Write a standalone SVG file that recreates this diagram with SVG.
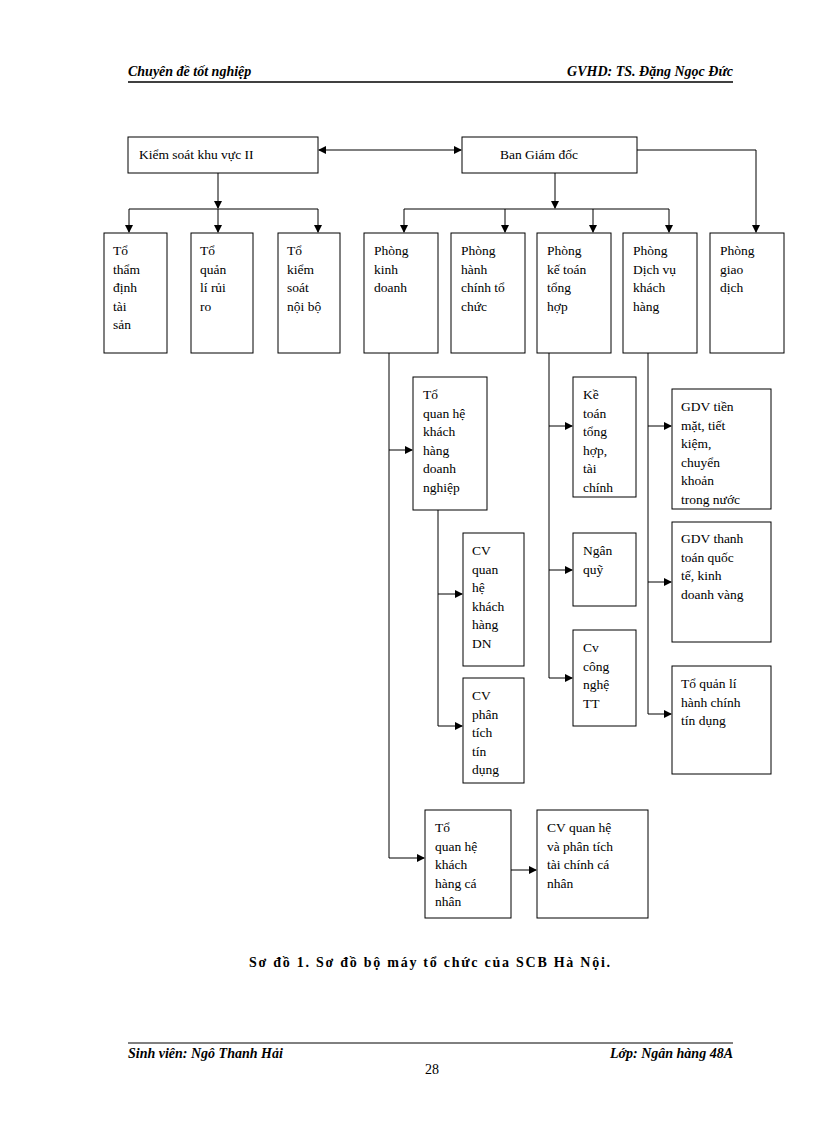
<svg xmlns="http://www.w3.org/2000/svg" width="816" height="1123" viewBox="0 0 816 1123" font-family="'Liberation Serif','Times New Roman','DejaVu Serif',serif">
<style>
rect{fill:#fff;stroke:#000;stroke-width:1}
text{font-family:'Liberation Serif','Times New Roman','DejaVu Serif',serif;font-size:13.5px;fill:#000}
.h{font-weight:bold;font-style:italic;font-size:14px}
.c{font-weight:bold;font-size:14px}
#conn path{fill:none;stroke:#000;stroke-width:1}
</style>
<defs>
<marker id="a" markerWidth="8" markerHeight="8" refX="7" refY="4" orient="auto" markerUnits="userSpaceOnUse"><path d="M0,0 L8,4 L0,8 z" fill="#000"/></marker>
<marker id="s" markerWidth="8" markerHeight="8" refX="1" refY="4" orient="auto" markerUnits="userSpaceOnUse"><path d="M8,0 L0,4 L8,8 z" fill="#000"/></marker>
</defs>
<text class="h" x="128" y="76">Chuyên đề tốt nghiệp</text>
<text class="h" x="733" y="76" text-anchor="end">GVHD: TS. Đặng Ngọc Đức</text>
<line x1="128" y1="82" x2="733" y2="82" stroke="#000" stroke-width="1.5"/>

<g id="conn">
<path d="M319,150 H461" marker-start="url(#s)" marker-end="url(#a)"/>
<path d="M218,173 V208" marker-end="url(#a)"/>
<path d="M129,209 H318"/>
<path d="M129,209 V232" marker-end="url(#a)"/>
<path d="M218,209 V232" marker-end="url(#a)"/>
<path d="M318,209 V232" marker-end="url(#a)"/>
<path d="M555,173 V208" marker-end="url(#a)"/>
<path d="M404,209 H669"/>
<path d="M404,209 V232" marker-end="url(#a)"/>
<path d="M505,209 V232" marker-end="url(#a)"/>
<path d="M593,209 V232" marker-end="url(#a)"/>
<path d="M669,209 V232" marker-end="url(#a)"/>
<path d="M637,150 H756 V232" marker-end="url(#a)"/>
<path d="M389,353 V858"/>
<path d="M389,450 H412" marker-end="url(#a)"/>
<path d="M389,858 H424" marker-end="url(#a)"/>
<path d="M438,510 V726"/>
<path d="M438,594 H462" marker-end="url(#a)"/>
<path d="M438,726 H462" marker-end="url(#a)"/>
<path d="M549,353 V678"/>
<path d="M549,426 H572" marker-end="url(#a)"/>
<path d="M549,570 H572" marker-end="url(#a)"/>
<path d="M549,678 H572" marker-end="url(#a)"/>
<path d="M648,353 V714"/>
<path d="M648,426 H671" marker-end="url(#a)"/>
<path d="M648,582 H671" marker-end="url(#a)"/>
<path d="M648,714 H671" marker-end="url(#a)"/>
<path d="M511,870 H536" marker-end="url(#a)"/>
</g>

<g id="n1"><rect x="128" y="137" width="190" height="36"/><text x="139" y="159">Kiểm  soát khu vực II</text></g>
<g id="n2"><rect x="462" y="137" width="175" height="36"/><text x="500" y="159">Ban Giám  đốc</text></g>

<g id="n3"><rect x="104" y="233" width="63" height="120"/><text x="113" y="255">Tổ<tspan x="113" dy="18.5">thẩm</tspan><tspan x="113" dy="18.5">định</tspan><tspan x="113" dy="18.5">tài</tspan><tspan x="113" dy="18.5">sản</tspan></text></g>
<g id="n4"><rect x="191" y="233" width="62" height="120"/><text x="200" y="255">Tổ<tspan x="200" dy="18.5">quản</tspan><tspan x="200" dy="18.5">lí  rủi</tspan><tspan x="200" dy="18.5">ro</tspan></text></g>
<g id="n5"><rect x="278" y="233" width="62" height="120"/><text x="287" y="255">Tổ<tspan x="287" dy="18.5">kiểm</tspan><tspan x="287" dy="18.5">soát</tspan><tspan x="287" dy="18.5">nội bộ</tspan></text></g>
<g id="n6"><rect x="364" y="233" width="74" height="120"/><text x="374" y="255">Phòng<tspan x="374" dy="18.5">kinh</tspan><tspan x="374" dy="18.5">doanh</tspan></text></g>
<g id="n7"><rect x="451" y="233" width="74" height="120"/><text x="461" y="255">Phòng<tspan x="461" dy="18.5">hành</tspan><tspan x="461" dy="18.5">chính  tổ</tspan><tspan x="461" dy="18.5">chức</tspan></text></g>
<g id="n8"><rect x="537" y="233" width="74" height="120"/><text x="547" y="255">Phòng<tspan x="547" dy="18.5">kế toán</tspan><tspan x="547" dy="18.5">tổng</tspan><tspan x="547" dy="18.5">hợp</tspan></text></g>
<g id="n9"><rect x="623" y="233" width="74" height="120"/><text x="633" y="255">Phòng<tspan x="633" dy="18.5">Dịch vụ</tspan><tspan x="633" dy="18.5">khách</tspan><tspan x="633" dy="18.5">hàng</tspan></text></g>
<g id="n10"><rect x="710" y="233" width="74" height="120"/><text x="720" y="255">Phòng<tspan x="720" dy="18.5">giao</tspan><tspan x="720" dy="18.5">dịch</tspan></text></g>

<g id="n11"><rect x="413" y="377" width="74" height="133"/><text x="423" y="399">Tổ<tspan x="423" dy="18.5">quan  hệ</tspan><tspan x="423" dy="18.5">khách</tspan><tspan x="423" dy="18.5">hàng</tspan><tspan x="423" dy="18.5">doanh</tspan><tspan x="423" dy="18.5">nghiệp</tspan></text></g>
<g id="n12"><rect x="463" y="533" width="61" height="133"/><text x="472" y="555">CV<tspan x="472" dy="18.5">quan</tspan><tspan x="472" dy="18.5">hệ</tspan><tspan x="472" dy="18.5">khách</tspan><tspan x="472" dy="18.5">hàng</tspan><tspan x="472" dy="18.5">DN</tspan></text></g>
<g id="n13"><rect x="463" y="678" width="61" height="105"/><text x="472" y="700">CV<tspan x="472" dy="18.5">phân</tspan><tspan x="472" dy="18.5">tích</tspan><tspan x="472" dy="18.5">tín</tspan><tspan x="472" dy="18.5">dụng</tspan></text></g>
<g id="n14"><rect x="425" y="810" width="86" height="108"/><text x="435" y="832">Tổ<tspan x="435" dy="18.5">quan hệ</tspan><tspan x="435" dy="18.5">khách</tspan><tspan x="435" dy="18.5">hàng cá</tspan><tspan x="435" dy="18.5">nhân</tspan></text></g>
<g id="n15"><rect x="537" y="810" width="111" height="108"/><text x="547" y="832">CV quan hệ<tspan x="547" dy="18.5">và phân  tích</tspan><tspan x="547" dy="18.5">tài chính  cá</tspan><tspan x="547" dy="18.5">nhân</tspan></text></g>

<g id="n16"><rect x="573" y="377" width="63" height="120"/><text x="583" y="399">Kề<tspan x="583" dy="18.5">toán</tspan><tspan x="583" dy="18.5">tổng</tspan><tspan x="583" dy="18.5">hợp,</tspan><tspan x="583" dy="18.5">tài</tspan><tspan x="583" dy="18.5">chính</tspan></text></g>
<g id="n17"><rect x="573" y="533" width="63" height="73"/><text x="583" y="555">Ngân<tspan x="583" dy="18.5">quỹ</tspan></text></g>
<g id="n18"><rect x="573" y="630" width="63" height="96"/><text x="583" y="652">Cv<tspan x="583" dy="18.5">công</tspan><tspan x="583" dy="18.5">nghệ</tspan><tspan x="583" dy="18.5">TT</tspan></text></g>

<g id="n19"><rect x="672" y="389" width="99" height="120"/><text x="681" y="411">GDV  tiền<tspan x="681" dy="18.5">mặt,  tiết</tspan><tspan x="681" dy="18.5">kiệm,</tspan><tspan x="681" dy="18.5">chuyển</tspan><tspan x="681" dy="18.5">khoản</tspan><tspan x="681" dy="18.5">trong  nước</tspan></text></g>
<g id="n20"><rect x="672" y="522" width="99" height="120"/><text x="681" y="543">GDV  thanh<tspan x="681" dy="18.5">toán  quốc</tspan><tspan x="681" dy="18.5">tế,  kinh</tspan><tspan x="681" dy="18.5">doanh  vàng</tspan></text></g>
<g id="n21"><rect x="672" y="666" width="99" height="108"/><text x="681" y="688">Tổ  quản  lí<tspan x="681" dy="18.5">hành  chính</tspan><tspan x="681" dy="18.5">tín  dụng</tspan></text></g>

<text class="c" x="249" y="967" textLength="361" lengthAdjust="spacing">Sơ đồ 1. Sơ đồ bộ máy tổ chức của SCB Hà Nội.</text>
<line x1="128" y1="1043" x2="733" y2="1043" stroke="#000" stroke-width="1"/>
<text class="h" x="128" y="1058">Sinh viên: Ngô Thanh Hải</text>
<text class="h" x="733" y="1058" text-anchor="end">Lớp: Ngân hàng 48A</text>
<text x="432" y="1074" text-anchor="middle" style="font-size:14px">28</text>
</svg>
